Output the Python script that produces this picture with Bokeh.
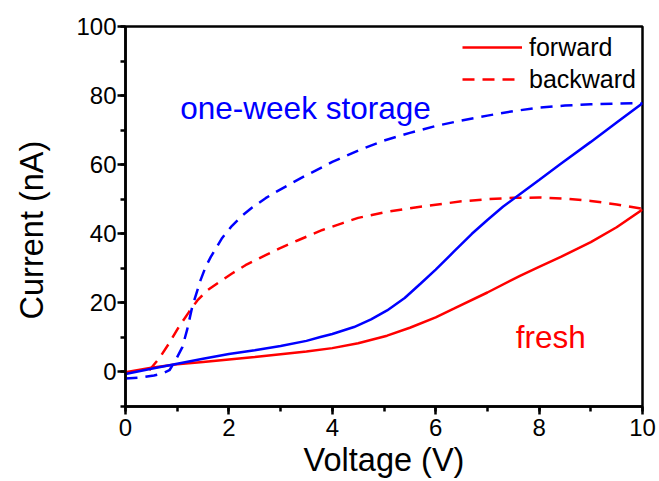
from bokeh.plotting import figure
from bokeh.models import (SingleIntervalTicker, Legend, LegendItem, Label, Range1d)
from bokeh.embed import file_html
from bokeh.resources import INLINE

# ---- data ----
fwd_fresh_v = [0, 0.5, 1, 1.5, 2, 2.5, 3, 3.5, 4, 4.5, 5.06, 5.5, 6, 6.35, 7, 7.64, 8, 8.42, 9, 9.5, 10]
fwd_fresh_i = [-0.1, 1.2, 2.2, 2.9, 3.6, 4.3, 5.1, 5.9, 6.9, 8.3, 10.5, 12.8, 15.8, 18.3, 23.0, 27.9,
               30.4, 33.3, 37.6, 41.9, 47.0]

bwd_fresh_v = [0.46, 0.65, 0.84, 1.03, 1.23, 1.39, 1.58, 1.81, 2.06, 2.32, 2.71, 2.97, 3.35, 3.81,
               4.2, 4.5, 5.0, 5.5, 6.0, 6.5, 7.0, 7.5, 8.0, 8.5, 9.0, 9.5, 10]
bwd_fresh_i = [0.5, 3.9, 8.2, 13.0, 17.4, 20.7, 23.6, 26.0, 28.5, 30.9, 33.8, 35.7, 38.2, 41.1,
               43.1, 44.6, 46.2, 47.4, 48.4, 49.4, 50.0, 50.4, 50.5, 50.2, 49.5, 48.5, 47.2]

fwd_week_v = [0, 0.5, 1, 1.5, 2, 2.5, 3, 3.5, 3.77, 4, 4.42, 4.75, 5.06, 5.4, 5.71, 6, 6.35, 6.7,
              7, 7.3, 7.64, 8, 8.42, 9, 9.5, 10]
fwd_week_i = [-0.6, 0.9, 2.4, 3.8, 5.2, 6.3, 7.5, 9.0, 10.1, 11.0, 13.0, 15.2, 17.8, 21.4, 25.6,
              29.6, 34.8, 40.0, 44.0, 47.8, 51.6, 55.6, 60.3, 66.6, 72.2, 77.8]

bwd_week_v = [0, 0.3, 0.55, 0.71, 0.85, 0.97, 1.10, 1.19, 1.29, 1.39, 1.45, 1.55, 1.65, 1.87, 2.06,
              2.26, 2.45, 2.71, 2.9, 3.16, 3.48, 3.81, 4.0, 4.5, 5.0, 5.5, 6.0, 6.5, 7.0, 7.5,
              8.0, 8.5, 9.0, 9.5, 10]
bwd_week_i = [-1.9, -1.6, -1.0, -0.5, 0.5, 3.4, 7.2, 12.1, 18.8, 23.6, 26.5, 30.4, 33.3, 38.8, 42.3,
              45.3, 47.6, 50.3, 52.0, 54.2, 56.8, 59.3, 60.8, 64.1, 67.0, 69.2, 71.2, 72.8, 74.2,
              75.5, 76.5, 77.1, 77.5, 77.7, 77.8]

legend_labels = ["forward", "backward"]

FONT = "Liberation Sans"
RED = "#ff0000"
BLUE = "#0000ff"

p = figure(width=659, height=481, output_backend="svg", toolbar_location=None,
           x_range=Range1d(0, 10), y_range=Range1d(-10, 100),
           min_border_left=125, min_border_right=17, min_border_top=26, min_border_bottom=75)
p.grid.visible = False
p.outline_line_color = "black"
p.outline_line_width = 2.5
p.background_fill_color = "white"
p.border_fill_color = "white"

r_fresh_f = p.line(fwd_fresh_v, fwd_fresh_i, line_color=RED, line_width=2.5)
r_fresh_b = p.line(bwd_fresh_v, bwd_fresh_i, line_color=RED, line_width=2.5, line_dash="12 8")
r_week_f = p.line(fwd_week_v, fwd_week_i, line_color=BLUE, line_width=2.5)
r_week_b = p.line(bwd_week_v, bwd_week_i, line_color=BLUE, line_width=2.5, line_dash="12 8")

for ax, interval in ((p.xaxis[0], 2), (p.yaxis[0], 20)):
    ax.ticker = SingleIntervalTicker(interval=interval, num_minor_ticks=2)
    ax.axis_label_text_font = FONT
    ax.axis_label_text_font_size = "32.5px"
    ax.axis_label_text_font_style = "normal"
    ax.axis_label_text_color = "black"
    ax.major_label_text_font = FONT
    ax.major_label_text_font_size = "24px"
    ax.major_label_text_color = "black"
    ax.axis_line_width = 2.5
    ax.axis_line_color = "black"
    ax.major_tick_in = 0
    ax.major_tick_out = 8
    ax.minor_tick_in = 0
    ax.minor_tick_out = 5
    ax.major_tick_line_width = 2.5
    ax.minor_tick_line_width = 2.5

p.xaxis.axis_label = "Voltage (V)"
p.yaxis.axis_label = "Current (nA)\u00a0\u00a0\u00a0"
p.xaxis.major_label_standoff = 4
p.xaxis.axis_label_standoff = 3
p.yaxis.major_label_standoff = 1
p.yaxis.axis_label_standoff = 23

legend = Legend(items=[LegendItem(label=legend_labels[0], renderers=[r_fresh_f]),
                       LegendItem(label=legend_labels[1], renderers=[r_fresh_b])],
                location="top_right")
legend.label_text_font = FONT
legend.label_text_font_size = "25px"
legend.label_text_color = "black"
legend.glyph_width = 60
legend.glyph_height = 30
legend.label_height = 30
legend.label_standoff = 7
legend.spacing = 2
legend.padding = 2
legend.margin = 6
legend.border_line_color = None
legend.background_fill_alpha = 0
p.add_layout(legend)

p.add_layout(Label(x=1.06, y=76.3, text="one-week storage", text_color=BLUE,
                   text_font=FONT, text_font_size="31.5px", text_baseline="alphabetic"))
p.add_layout(Label(x=7.55, y=10.1, text="fresh", text_color=RED,
                   text_font=FONT, text_font_size="31.5px", text_baseline="alphabetic"))

open("out.html", "w").write(file_html(p, INLINE))
